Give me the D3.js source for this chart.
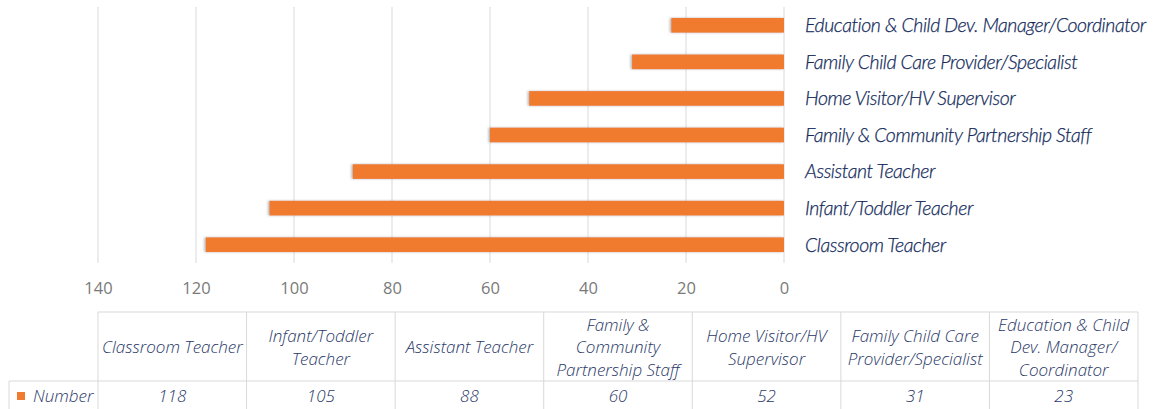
<!DOCTYPE html>
<html><head><meta charset="utf-8">
<script src="https://cdn.jsdelivr.net/npm/d3@7"></script>
<style>body{margin:0;background:#fff}svg{display:block}</style>
</head><body>
<svg id="c" width="1155" height="409"></svg>
<script>
const categories = ["Classroom Teacher","Infant/Toddler Teacher","Assistant Teacher","Family & Community Partnership Staff","Home Visitor/HV Supervisor","Family Child Care Provider/Specialist","Education & Child Dev. Manager/Coordinator"];
const headerLines = [["Classroom Teacher"],["Infant/Toddler","Teacher"],["Assistant Teacher"],["Family &","Community","Partnership Staff"],["Home Visitor/HV","Supervisor"],["Family Child Care","Provider/Specialist"],["Education & Child","Dev. Manager/","Coordinator"]];
const values = [118,105,88,60,52,31,23];
const seriesName = "Number";
const xTicks = [0,20,40,60,80,100,120,140];

const svg = d3.select("#c");
const orange = "#F07A2E";
const defs = svg.append("defs");
const f = defs.append("filter").attr("id","sh").attr("x","-5%").attr("y","-20%").attr("width","110%").attr("height","140%");
f.append("feDropShadow").attr("dx",-1.5).attr("dy",0).attr("stdDeviation",1).attr("flood-color","#888").attr("flood-opacity",0.6);

const x = d3.scaleLinear().domain([0,140]).range([784,98]);
const y = d3.scaleBand().domain(categories.slice().reverse()).range([7,263]).paddingInner(0.6).paddingOuter(0.3);

// grid
svg.append("g").selectAll("line").data(xTicks).join("line")
  .attr("x1",d=>x(d)).attr("x2",d=>x(d)).attr("y1",7).attr("y2",263)
  .attr("stroke","#d9d9d9").attr("stroke-width",1);

// axis labels
const ax = svg.append("g").attr("transform","translate(0,263)").call(d3.axisBottom(x).tickValues(xTicks).tickSize(0).tickPadding(19));
ax.select(".domain").remove();
ax.selectAll("text").attr("font-family","'Open Sans',sans-serif").attr("font-size",16.5).attr("fill","#7a7a7a").attr("font-weight",400);

// bars
svg.append("g").selectAll("rect").data(categories).join("rect")
  .attr("x",(d,i)=>x(values[i])).attr("width",(d,i)=>x(0)-x(values[i]))
  .attr("y",d=>y(d)).attr("height",y.bandwidth())
  .attr("fill",orange).attr("filter","url(#sh)");

// category labels
svg.append("g").selectAll("text").data(categories).join("text")
  .attr("x",805).attr("y",d=>y(d)+y.bandwidth()/2).attr("dy","0.35em")
  .attr("font-family","Lato,sans-serif").attr("font-style","italic").attr("font-weight",300).attr("font-size",19.5)
  .attr("letter-spacing",-0.45).attr("fill","#142B5C").attr("stroke","#142B5C").attr("stroke-width",0.25).text(d=>d);

// data table
const colX = d3.scaleBand().domain(categories).range([98,1138]);
const tTop = 312, tMid = 381, tBot = 412;
const tbl = svg.append("g").attr("stroke","#d9d9d9").attr("stroke-width",1).attr("fill","none");
tbl.append("line").attr("x1",98).attr("x2",1138).attr("y1",tTop).attr("y2",tTop);
tbl.append("line").attr("x1",9).attr("x2",1138).attr("y1",tMid).attr("y2",tMid);
tbl.append("line").attr("x1",9).attr("x2",9).attr("y1",tMid).attr("y2",tBot);
tbl.selectAll("line.v").data(categories.concat(["end"])).join("line").attr("class","v")
  .attr("x1",(d,i)=>98+i*colX.bandwidth()).attr("x2",(d,i)=>98+i*colX.bandwidth())
  .attr("y1",tTop).attr("y2",tBot);

const tf = "'Open Sans',sans-serif";
const hdr = svg.append("g").attr("font-family",tf).attr("font-style","italic").attr("font-weight",300).attr("font-size",17).attr("fill","#2A3868").attr("text-anchor","middle");
categories.forEach((c,i)=>{
  const lines = headerLines[i];
  const cy = (tTop+tMid)/2 + 1, lh = 22.5;
  lines.forEach((l,j)=>{
    hdr.append("text").attr("x",colX(c)+colX.bandwidth()/2).attr("y",cy+(j-(lines.length-1)/2)*lh).attr("dy","0.35em").text(l);
  });
  hdr.append("text").attr("x",colX(c)+colX.bandwidth()/2).attr("y",396).attr("dy","0.35em").text(values[i]);
});
svg.append("rect").attr("x",17).attr("y",392).attr("width",8).attr("height",8).attr("fill",orange);
svg.append("text").attr("x",33).attr("y",396).attr("dy","0.35em").attr("font-family",tf).attr("font-style","italic").attr("font-weight",300).attr("font-size",17).attr("fill","#2A3868").text(seriesName);
</script>
</body></html>
